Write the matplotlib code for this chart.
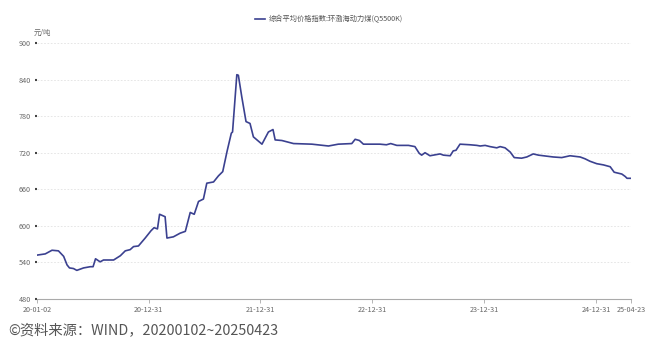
import numpy as np
import pandas as pd
import matplotlib
matplotlib.use('Agg')
import matplotlib.pyplot as plt
import matplotlib.dates as mdates

plt.rcParams['font.family'] = ['Noto Sans CJK SC', 'DejaVu Sans']

series_name = '综合平均价格指数:环渤海动力煤(Q5500K)'
unit = '元/吨'
source = '©资料来源：WIND，20200102~20250423'

dates = ['2020-01-02', '2020-01-29', '2020-02-20', '2020-03-12', '2020-03-29', '2020-04-09',
         '2020-04-17', '2020-04-30', '2020-05-11', '2020-06-02', '2020-06-24', '2020-07-03',
         '2020-07-11', '2020-07-26', '2020-08-06', '2020-09-08', '2020-09-30', '2020-10-16',
         '2020-11-01', '2020-11-12', '2020-11-28', '2020-12-20', '2021-01-08', '2021-01-18',
         '2021-01-29', '2021-02-05', '2021-02-23', '2021-03-01', '2021-03-22', '2021-04-13',
         '2021-04-30', '2021-05-16', '2021-05-29', '2021-06-12', '2021-06-28', '2021-07-09',
         '2021-07-31', '2021-08-16', '2021-08-30', '2021-09-13', '2021-09-27', '2021-10-01',
         '2021-10-15', '2021-10-20', '2021-10-31', '2021-11-14', '2021-11-27', '2021-12-08',
         '2022-01-05', '2022-01-26', '2022-02-10', '2022-02-17', '2022-03-11', '2022-04-18',
         '2022-06-17', '2022-08-10', '2022-09-11', '2022-10-25', '2022-11-05', '2022-11-19',
         '2022-12-02', '2023-01-25', '2023-02-15', '2023-03-01', '2023-03-21', '2023-04-28',
         '2023-05-19', '2023-06-02', '2023-06-10', '2023-06-21', '2023-07-07', '2023-07-29',
         '2023-08-09', '2023-08-20', '2023-09-11', '2023-09-21', '2023-09-30', '2023-10-13',
         '2023-11-15', '2023-12-07', '2023-12-18', '2024-01-03', '2024-01-19', '2024-02-10',
         '2024-02-21', '2024-03-08', '2024-03-25', '2024-04-07', '2024-05-01', '2024-05-18',
         '2024-06-08', '2024-06-25', '2024-07-11', '2024-08-12', '2024-09-09', '2024-10-06',
         '2024-11-08', '2024-11-24', '2024-12-10', '2025-01-01', '2025-01-23', '2025-02-14',
         '2025-02-27', '2025-03-24', '2025-04-04', '2025-04-10', '2025-04-23']
values = [552, 554, 560, 559, 550, 536,
          531, 530, 527, 531, 533, 533,
          546, 541, 544, 544, 551, 559,
          561, 566, 567, 580, 592, 597,
          595, 619, 615, 580, 582, 588,
          591, 622, 619, 640, 644, 670,
          672, 682, 689, 722, 752, 754,
          848, 847, 812, 771, 768, 746,
          734, 754, 758, 741, 740, 735,
          734, 731, 734, 735, 742, 740,
          734, 734, 733, 735, 732, 732,
          730, 719, 716, 720, 715, 717,
          718, 716, 715, 723, 724, 734,
          733, 732, 731, 732, 730, 728,
          730, 728, 721, 712, 711, 713,
          718, 716, 715, 713, 712, 715,
          713, 710, 706, 702, 700, 697,
          688, 685, 681, 678, 678]

xtick_dates = ['2020-01-02', '2020-12-31', '2021-12-31', '2022-12-31', '2023-12-31', '2024-12-31', '2025-04-23']
yticks = [480, 540, 600, 660, 720, 780, 840, 900]

x = pd.to_datetime(dates)
xt = pd.to_datetime(xtick_dates)

fig = plt.figure(figsize=(6.58, 3.46), dpi=100)
ax = fig.add_axes([0.0562, 0.1358, 0.9028, 0.74])

ax.plot(x, values, color='#3b4190', lw=1.2, label=series_name)

ax.set_xlim(xt[0], xt[-1])
ax.set_ylim(480, 900)
ax.set_yticks(yticks)
ax.set_xticks(xt)
ax.set_xticklabels([d.strftime('%y-%m-%d') for d in xt])

ax.grid(axis='y', color='#e2e2e2', lw=0.6, ls=(0, (2, 2)))
for s in ['top', 'right', 'left']:
    ax.spines[s].set_visible(False)
ax.spines['bottom'].set_color('#aaaaaa')
ax.spines['bottom'].set_linewidth(0.8)

ax.tick_params(axis='y', length=1.5, width=1.5, color='#444444', labelsize=5.2, labelcolor='#666666', pad=3)
ax.tick_params(axis='x', length=3, width=0.6, color='#aaaaaa', labelsize=5.2, labelcolor='#666666', pad=2)

ax.text(-0.005, 1.025, unit, transform=ax.transAxes, fontsize=5.2, color='#666666', ha='left', va='bottom')

leg = fig.legend(loc='upper center', bbox_to_anchor=(0.5, 0.975), frameon=False,
                 fontsize=5.2, handlelength=1.4, handletextpad=0.6)
for t in leg.get_texts():
    t.set_color('#555555')

fig.text(0.012, 0.045, source, fontsize=10.3, color='#555555', ha='left', va='center')

fig.savefig('out.png', dpi=100)
